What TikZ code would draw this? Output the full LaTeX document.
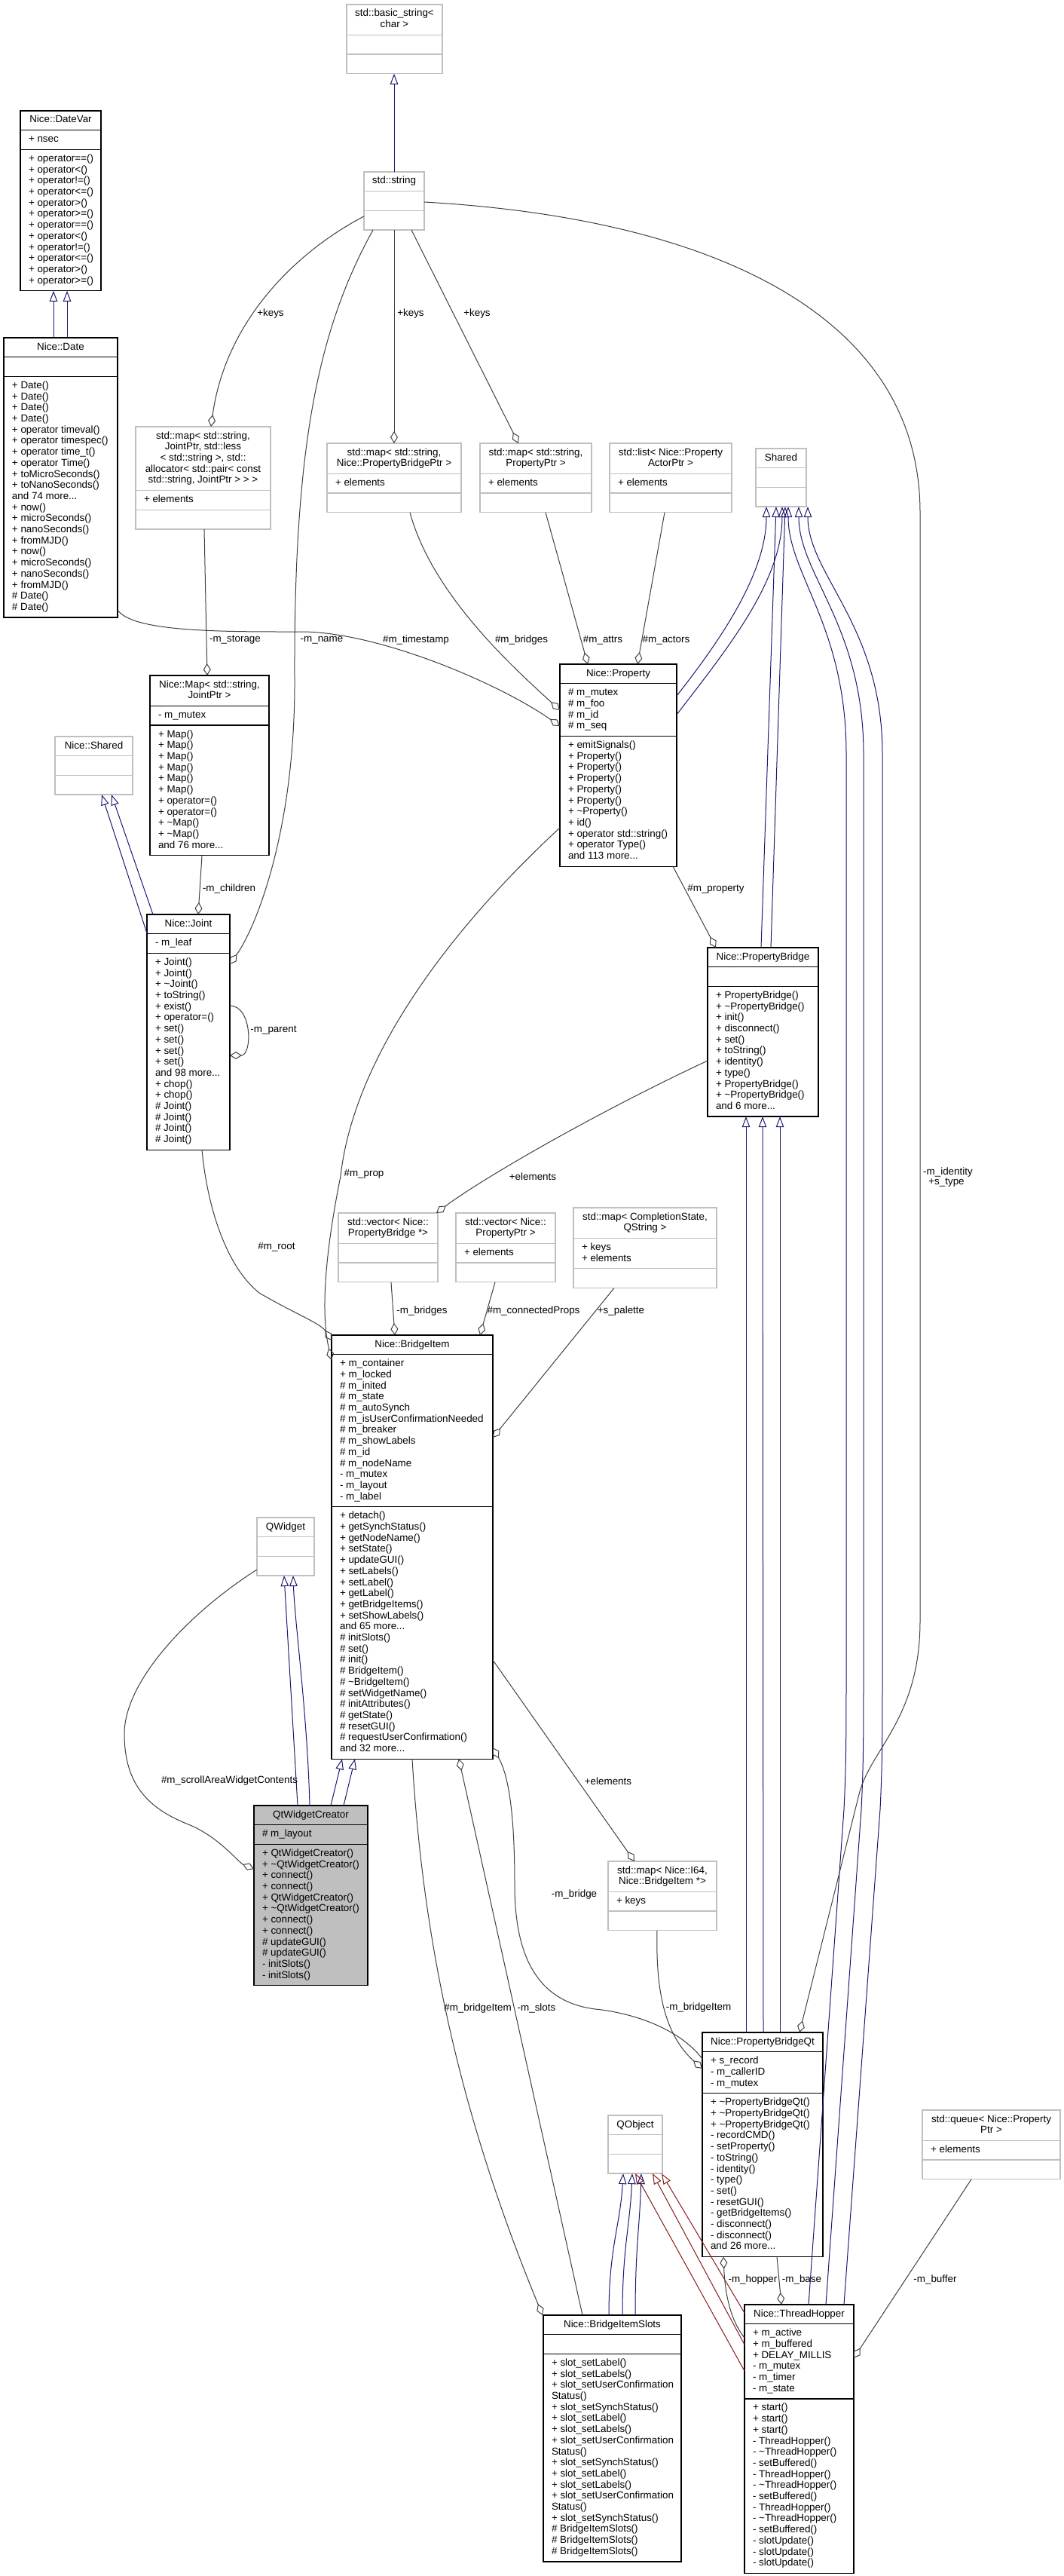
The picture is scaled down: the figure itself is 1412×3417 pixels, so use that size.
\documentclass[tikz,border=0pt]{standalone}
\usepackage{fontspec}
\setmainfont{Liberation Sans}
\usetikzlibrary{calc,arrows.meta}
\definecolor{gb}{HTML}{BFBFBF}
\definecolor{ib}{HTML}{191970}
\definecolor{ir}{HTML}{8B1A1A}
\definecolor{ug}{HTML}{404040}
\newcommand\threedots{...}
\newcommand\cls[8]{%
  \pgfmathsetmacro\hA{max(#5,1)*14.7+11}%
  \pgfmathsetmacro\hB{max(#6,1)*14.7+11}%
  \pgfmathsetmacro\hC{max(#7,1)*14.7+11}%
  \pgfmathsetmacro\hT{\hA+\hB+\hC}%
  \node[#8, minimum width=#4, minimum height=\hT, anchor=north west] (#1) at (#2,#3) {};
  \draw[#8-sep] ($(#1.north west)+(0,\hA)$) -- ($(#1.north east)+(0,\hA)$);
  \draw[#8-sep] ($(#1.north west)+(0,\hA+\hB)$) -- ($(#1.north east)+(0,\hA+\hB)$);
  \coordinate (#1-t) at (#1.north);
  \coordinate (#1-a) at ($(#1.north west)+(11,\hA)$);
  \coordinate (#1-m) at ($(#1.north west)+(11,\hA+\hB)$);
}
\newcommand\txtc[2]{\foreach \lin [count=\i from 0] in {#2}{\node[txt, anchor=base] (#1-\i) at ($(#1)+(0,16+14.7*\i)$) {\lin};}}
\newcommand\txtl[2]{\foreach \lin [count=\i from 0] in {#2}{\node[txt, anchor=base west] (#1-\i) at ($(#1)+(0,16+14.7*\i)$) {\lin};}}
\begin{document}
\begin{tikzpicture}[x=1pt,y=-1pt,
  txt/.style={font=\fontsize{13.4}{14.7}\selectfont, inner sep=0pt, outer sep=0pt, text=black},
  lbl/.style={txt, anchor=center},
  extbox/.style={draw=gb, fill=white, line width=1.3pt, inner sep=0pt, outer sep=0pt},
  extbox-sep/.style={draw=gb, line width=1.3pt},
  docbox/.style={draw=black, fill=white, line width=1.3pt, inner sep=0pt, outer sep=0pt},
  docbox-sep/.style={draw=black, line width=1.3pt},
  curbox/.style={draw=black, fill=gb, line width=1.3pt, inner sep=0pt, outer sep=0pt},
  curbox-sep/.style={draw=black, line width=1.3pt},
  inh/.style={draw=ib, line width=1pt, -{Triangle[open, length=14pt, width=10.5pt]}},
  pinh/.style={draw=ir, line width=1pt, -{Triangle[open, length=14pt, width=10.5pt]}},
  agg/.style={draw=ug, line width=1pt, -{Diamond[open, length=16pt, width=10pt]}}]
\fill[white] (0,0) rectangle (1412,3417);
\useasboundingbox (0,0) rectangle (1412,3417);

% ---------- boxes ----------
\cls{bs}{460}{6}{127}{2}{0}{0}{extbox}
\txtc{bs-t}{std::basic\_string<, char >}
\cls{str}{483}{228}{80}{1}{0}{0}{extbox}
\txtc{str-t}{std::string}
\cls{dv}{27}{147}{107}{1}{1}{12}{docbox}
\txtc{dv-t}{Nice::DateVar}
\txtl{dv-a}{+ nsec}
\txtl{dv-m}{+ operator==(), + operator<(), + operator!=(), + operator<=(), + operator>(), + operator>=(), + operator==(), + operator<(), + operator!=(), + operator<=(), + operator>(), + operator>=()}
\cls{dt}{5}{448}{151}{1}{0}{21}{docbox}
\txtc{dt-t}{Nice::Date}
\txtl{dt-m}{+ Date(), + Date(), + Date(), + Date(), + operator timeval(), + operator timespec(), + operator time\_t(), + operator Time(), + toMicroSeconds(), + toNanoSeconds(), and 74 more\threedots, + now(), + microSeconds(), + nanoSeconds(), + fromMJD(), + now(), + microSeconds(), + nanoSeconds(), + fromMJD(), \# Date(), \# Date()}
\cls{mj}{180}{566}{179}{5}{1}{0}{extbox}
\txtc{mj-t}{{std::map< std::string,}, {JointPtr, std::less}, {< std::string >, std::}, {allocator< std::pair< const}, {std::string, JointPtr > > >}}
\txtl{mj-a}{+ elements}
\cls{mpb}{434}{588}{178}{2}{1}{0}{extbox}
\txtc{mpb-t}{{std::map< std::string,}, {Nice::PropertyBridgePtr >}}
\txtl{mpb-a}{+ elements}
\cls{mpp}{637}{588}{148}{2}{1}{0}{extbox}
\txtc{mpp-t}{{std::map< std::string,}, {PropertyPtr >}}
\txtl{mpp-a}{+ elements}
\cls{lst}{809}{588}{162}{2}{1}{0}{extbox}
\txtc{lst-t}{std::list< Nice::Property, ActorPtr >}
\txtl{lst-a}{+ elements}
\cls{sh}{1003}{595}{67}{1}{0}{0}{extbox}
\txtc{sh-t}{Shared}
\cls{prop}{743}{881}{155}{1}{4}{11}{docbox}
\txtc{prop-t}{Nice::Property}
\txtl{prop-a}{\# m\_mutex, \# m\_foo, \# m\_id, \# m\_seq}
\txtl{prop-m}{+ emitSignals(), + Property(), + Property(), + Property(), + Property(), + Property(), + \textasciitilde Property(), + id(), + operator std::string(), + operator Type(), and 113 more\threedots}
\cls{nmap}{199}{896}{158}{2}{1}{11}{docbox}
\txtc{nmap-t}{{Nice::Map< std::string,}, {JointPtr >}}
\txtl{nmap-a}{- m\_mutex}
\txtl{nmap-m}{+ Map(), + Map(), + Map(), + Map(), + Map(), + Map(), + operator=(), + operator=(), + \textasciitilde Map(), + \textasciitilde Map(), and 76 more\threedots}
\cls{nsh}{73}{977}{103}{1}{0}{0}{extbox}
\txtc{nsh-t}{Nice::Shared}
\cls{jt}{195}{1213}{110}{1}{1}{17}{docbox}
\txtc{jt-t}{Nice::Joint}
\txtl{jt-a}{- m\_leaf}
\txtl{jt-m}{+ Joint(), + Joint(), + \textasciitilde Joint(), + toString(), + exist(), + operator=(), + set(), + set(), + set(), + set(), and 98 more\threedots, + chop(), + chop(), \# Joint(), \# Joint(), \# Joint(), \# Joint()}
\cls{pb}{939}{1257}{147}{1}{0}{11}{docbox}
\txtc{pb-t}{Nice::PropertyBridge}
\txtl{pb-m}{+ PropertyBridge(), + \textasciitilde PropertyBridge(), + init(), + disconnect(), + set(), + toString(), + identity(), + type(), + PropertyBridge(), + \textasciitilde PropertyBridge(), and 6 more\threedots}
\cls{vpb}{449}{1609}{132}{2}{0}{0}{extbox}
\txtc{vpb-t}{std::vector< Nice::, PropertyBridge *>}
\cls{vpp}{605}{1609}{132}{2}{1}{0}{extbox}
\txtc{vpp-t}{std::vector< Nice::, PropertyPtr >}
\txtl{vpp-a}{+ elements}
\cls{mcs}{761}{1602}{190}{2}{2}{0}{extbox}
\txtc{mcs-t}{{std::map< CompletionState,}, {QString >}}
\txtl{mcs-a}{+ keys, + elements}
\cls{bi}{440}{1771}{214}{1}{13}{22}{docbox}
\txtc{bi-t}{Nice::BridgeItem}
\txtl{bi-a}{+ m\_container, + m\_locked, \# m\_inited, \# m\_state, \# m\_autoSynch, \# m\_isUserConfirmationNeeded, \# m\_breaker, \# m\_showLabels, \# m\_id, \# m\_nodeName, - m\_mutex, - m\_layout, - m\_label}
\txtl{bi-m}{+ detach(), + getSynchStatus(), + getNodeName(), + setState(), + updateGUI(), + setLabels(), + setLabel(), + getLabel(), + getBridgeItems(), + setShowLabels(), and 65 more\threedots, \# initSlots(), \# set(), \# init(), \# BridgeItem(), \# \textasciitilde BridgeItem(), \# setWidgetName(), \# initAttributes(), \# getState(), \# resetGUI(), \# requestUserConfirmation(), and 32 more\threedots}
\cls{qw}{341}{2013}{76}{1}{0}{0}{extbox}
\txtc{qw-t}{QWidget}
\cls{qwc}{337}{2395}{151}{1}{1}{12}{curbox}
\txtc{qwc-t}{QtWidgetCreator}
\txtl{qwc-a}{\# m\_layout}
\txtl{qwc-m}{+ QtWidgetCreator(), + \textasciitilde QtWidgetCreator(), + connect(), + connect(), + QtWidgetCreator(), + \textasciitilde QtWidgetCreator(), + connect(), + connect(), \# updateGUI(), \# updateGUI(), - initSlots(), - initSlots()}
\cls{mi}{807}{2469}{144}{2}{1}{0}{extbox}
\txtc{mi-t}{{std::map< Nice::I64,}, {Nice::BridgeItem *>}}
\txtl{mi-a}{+ keys}
\cls{pbq}{932}{2696}{160}{1}{3}{14}{docbox}
\txtc{pbq-t}{Nice::PropertyBridgeQt}
\txtl{pbq-a}{+ s\_record, - m\_callerID, - m\_mutex}
\txtl{pbq-m}{+ \textasciitilde PropertyBridgeQt(), + \textasciitilde PropertyBridgeQt(), + \textasciitilde PropertyBridgeQt(), - recordCMD(), - setProperty(), - toString(), - identity(), - type(), - set(), - resetGUI(), - getBridgeItems(), - disconnect(), - disconnect(), and 26 more\threedots}
\cls{qo}{807}{2806}{72}{1}{0}{0}{extbox}
\txtc{qo-t}{QObject}
\cls{que}{1224}{2799}{183}{2}{1}{0}{extbox}
\txtc{que-t}{std::queue< Nice::Property, Ptr >}
\txtl{que-a}{+ elements}
\cls{bis}{721}{3071}{183}{1}{0}{18}{docbox}
\txtc{bis-t}{Nice::BridgeItemSlots}
\txtl{bis-m}{+ slot\_setLabel(), + slot\_setLabels(), + slot\_setUserConfirmation, Status(), + slot\_setSynchStatus(), + slot\_setLabel(), + slot\_setLabels(), + slot\_setUserConfirmation, Status(), + slot\_setSynchStatus(), + slot\_setLabel(), + slot\_setLabels(), + slot\_setUserConfirmation, Status(), + slot\_setSynchStatus(), \# BridgeItemSlots(), \# BridgeItemSlots(), \# BridgeItemSlots()}
\cls{th}{988}{3057}{145}{1}{6}{15}{docbox}
\txtc{th-t}{Nice::ThreadHopper}
\txtl{th-a}{+ m\_active, + m\_buffered, + DELAY\_MILLIS, - m\_mutex, - m\_timer, - m\_state}
\txtl{th-m}{+ start(), + start(), + start(), - ThreadHopper(), - \textasciitilde ThreadHopper(), - setBuffered(), - ThreadHopper(), - \textasciitilde ThreadHopper(), - setBuffered(), - ThreadHopper(), - \textasciitilde ThreadHopper(), - setBuffered(), - slotUpdate(), - slotUpdate(), - slotUpdate()}

% ---------- inheritance ----------
\draw[inh] (str.north) -- (str.north |- bs.south);
\draw[inh] ($(dt.north west)+(66,0)$) -- ($(dv.south west)+(44,0)$);
\draw[inh] ($(dt.north west)+(84,0)$) -- ($(dv.south west)+(62,0)$);
\draw[inh] ($(prop.north west)+(155,42)$) .. controls +(55,-70) and +(0,90) .. ($(sh.south west)+(14,0)$);
\draw[inh] ($(prop.north west)+(155,67)$) .. controls +(65,-85) and +(0,100) .. ($(sh.south west)+(35,0)$);
\draw[inh] ($(pb.north west)+(71,0)$) -- ($(sh.south west)+(27,0)$);
\draw[inh] ($(pb.north west)+(84,0)$) -- ($(sh.south west)+(39,0)$);
\draw[inh] ($(th.north west)+(85,0)$) -- (1120,2400) .. controls +(3,-60) and +(0,100) .. (1123,2200) -- (1123,1000) .. controls +(0,-170) and +(0,90) .. ($(sh.south west)+(43,0)$);
\draw[inh] ($(th.north west)+(108,0)$) -- (1143,2400) .. controls +(3,-60) and +(0,100) .. (1146,2200) -- (1146,1000) .. controls +(0,-170) and +(0,90) .. ($(sh.south west)+(57,0)$);
\draw[inh] ($(th.north west)+(132,0)$) -- (1168,2400) .. controls +(3,-60) and +(0,100) .. (1171,2200) -- (1171,1000) .. controls +(0,-170) and +(0,90) .. ($(sh.south west)+(69,0)$);
\draw[inh] ($(pbq.north west)+(58,0)$) -- ($(pb.south west)+(51,0)$);
\draw[inh] ($(pbq.north west)+(81,0)$) -- ($(pb.south west)+(73,0)$);
\draw[inh] ($(pbq.north west)+(103,0)$) -- ($(pb.south west)+(96,0)$);
\draw[inh] ($(jt.north west)+(0,25)$) -- ($(nsh.south west)+(62,0)$);
\draw[inh] ($(jt.north west)+(8,0)$) -- ($(nsh.south west)+(75,0)$);
\draw[inh] ($(qwc.north west)+(58,0)$) -- ($(qw.south west)+(36,0)$);
\draw[inh] ($(qwc.north west)+(74,0)$) .. controls +(-3,-120) and +(2,60) .. ($(qw.south west)+(48,0)$);
\draw[inh] ($(qwc.north west)+(102,0)$) -- ($(bi.south west)+(14,0)$);
\draw[inh] ($(qwc.north west)+(119,0)$) -- ($(bi.south west)+(31,0)$);
\draw[pinh] ($(th.north west)+(0,11)$) -- ($(qo.south west)+(71,0)$);
\draw[pinh] ($(th.north west)+(0,53)$) -- ($(qo.south west)+(59,0)$);
\draw[pinh] ($(th.north west)+(0,88)$) -- ($(qo.south west)+(36,0)$);
\draw[inh] ($(bis.north west)+(87,0)$) .. controls +(0,-90) and +(-4,70) .. ($(qo.south west)+(20,0)$);
\draw[inh] ($(bis.north west)+(105,0)$) .. controls +(0,-90) and +(-3,70) .. ($(qo.south west)+(32,0)$);
\draw[inh] ($(bis.north west)+(122,0)$) .. controls +(0,-90) and +(-2,70) .. ($(qo.south west)+(44,0)$);

% ---------- usage ----------
\draw[agg] ($(str.north west)+(0,59)$) .. controls +(-83,43) and +(20,-146) .. ($(mj.north west)+(100,0)$);
\draw[agg] ($(str.south west)+(40,0)$) -- ($(mpb.north west)+(89,0)$);
\draw[agg] ($(str.south west)+(63,0)$) -- ($(mpp.north west)+(51,0)$);
\draw[agg] ($(str.south west)+(12,0)$) .. controls +(-75,135) and +(-1,-300) .. (391,900) .. controls +(1,200) and +(35,-49) .. ($(jt.north west)+(110,66)$);
\draw[agg] ($(str.north west)+(80,40)$) .. controls +(387,22) and +(0,-260) .. (1221,680) -- (1221,2150) .. controls +(0,130) and +(15,-60) .. (1140,2380) -- ($(pbq.north west)+(129,0)$);
\draw[agg] ($(mj.south west)+(91,0)$) -- ($(nmap.north west)+(76,0)$);
\draw[agg] ($(dt.north west)+(151,361)$) .. controls +(20,30) and +(-100,0) .. (400,838) .. controls +(100,0) and +(-83,-58) .. ($(prop.north west)+(0,82)$);
\draw[agg] ($(mpb.south west)+(110,0)$) .. controls +(30,110) and +(-60,-55) .. ($(prop.north west)+(0,61)$);
\draw[agg] ($(mpp.south west)+(87,0)$) -- ($(prop.north west)+(37,0)$);
\draw[agg] ($(lst.south west)+(73,0)$) -- ($(prop.north west)+(103,0)$);
\draw[agg] ($(nmap.south west)+(69,0)$) -- ($(jt.north west)+(68,0)$);
\draw[agg] ($(jt.north west)+(110,121)$) .. controls +(30,0) and +(30,0) .. ($(jt.north west)+(110,187)$);
\draw[agg] ($(prop.south west)+(150,0)$) -- ($(pb.north west)+(11,0)$);
\draw[agg] ($(pb.north west)+(0,150)$) .. controls +(-150,70) and +(60,-45) .. ($(vpb.north east)+(-2,0)$);
\draw[agg] ($(jt.south west)+(73,0)$) .. controls +(7,75) and +(-44,-35) .. (344,1715) .. controls +(46,27) and +(-15,-23) .. ($(bi.north west)+(0,7)$);
\draw[agg] ($(prop.north west)+(0,217)$) .. controls +(-143,132) and +(18,-160) .. (452,1560) .. controls +(-20,100) and +(-15,-64) .. ($(bi.north west)+(0,33)$);
\draw[agg] ($(vpb.south west)+(70,0)$) -- ($(bi.north west)+(84,0)$);
\draw[agg] ($(vpp.south west)+(52,0)$) -- ($(bi.north west)+(197,0)$);
\draw[agg] ($(mcs.south west)+(54,0)$) -- ($(bi.north west)+(214,136)$);
\draw[agg] ($(bi.north west)+(214,431)$) -- ($(mi.north west)+(35,0)$);
\draw[agg] ($(pbq.north west)+(0,35)$) .. controls +(-30,-40) and +(50,5) .. (790,2665) .. controls +(-80,-10) and +(0,90) .. (683,2500) .. controls +(0,-100) and +(20,35) .. ($(bi.south east)+(0,-15)$);
\draw[agg] ($(mi.south west)+(65,0)$) .. controls +(-2,80) and +(-50,-45) .. ($(pbq.north west)+(0,48)$);
\draw[agg] ($(qw.north west)+(0,69)$) .. controls +(-91,58) and +(0,-70) .. (165,2300) .. controls +(0,70) and +(-50,-20) .. (250,2420) .. controls +(40,16) and +(-20,-8) .. ($(qwc.north west)+(0,84)$);
\draw[agg] ($(bi.south west)+(107,0)$) .. controls +(13,217) and +(-120,-291) .. ($(bis.north west)+(-1,0)$);
\draw[agg] ($(bis.north west)+(52,0)$) -- ($(bi.south west)+(169,0)$);
\draw[agg] ($(th.north west)+(0,44)$) .. controls +(-20,-25) and +(2,45) .. ($(pbq.south west)+(28,0)$);
\draw[agg] ($(pbq.south west)+(99,0)$) -- ($(th.north west)+(49,0)$);
\draw[agg] ($(que.south west)+(65,0)$) -- ($(th.north west)+(145,71)$);

% ---------- labels ----------
\node[lbl] (l1) at (359,416) {+keys};
\node[lbl] (l2) at (545,416) {+keys};
\node[lbl] (l3) at (633,416) {+keys};
\node[lbl] (l4) at (312,849) {-m\_storage};
\node[lbl] (l5) at (427,849) {-m\_name};
\node[lbl] (l6) at (552,849) {\#m\_timestamp};
\node[lbl] (l7) at (692,849) {\#m\_bridges};
\node[lbl] (l8) at (800,849) {\#m\_attrs};
\node[lbl] (l9) at (884,849) {\#m\_actors};
\node[lbl] (l10) at (304,1179) {-m\_children};
\node[lbl] (l11) at (950,1179) {\#m\_property};
\node[lbl] (l12) at (363,1367) {-m\_parent};
\node[lbl] (l13) at (1258,1555) {-m\_identity};
\node[lbl] (l14) at (1256,1569) {+s\_type};
\node[lbl] (l15) at (707,1561) {+elements};
\node[lbl] (l16) at (483,1557) {\#m\_prop};
\node[lbl] (l17) at (367,1654) {\#m\_root};
\node[lbl] (l18) at (560,1739) {-m\_bridges};
\node[lbl] (l19) at (708,1739) {\#m\_connectedProps};
\node[lbl] (l20) at (824,1739) {+s\_palette};
\node[lbl] (l21) at (807,2363) {+elements};
\node[lbl, anchor=east] (l22) at (395,2362) {\#m\_scrollAreaWidgetContents};
\node[lbl] (l23) at (762,2513) {-m\_bridge};
\node[lbl] (l24) at (927,2663) {-m\_bridgeItem};
\node[lbl] (l25) at (634,2664) {\#m\_bridgeItem};
\node[lbl] (l26) at (712,2664) {-m\_slots};
\node[lbl] (l27) at (999,3024) {-m\_hopper};
\node[lbl] (l28) at (1064,3024) {-m\_base};
\node[lbl] (l29) at (1241,3024) {-m\_buffer};
\end{tikzpicture}
\end{document}
